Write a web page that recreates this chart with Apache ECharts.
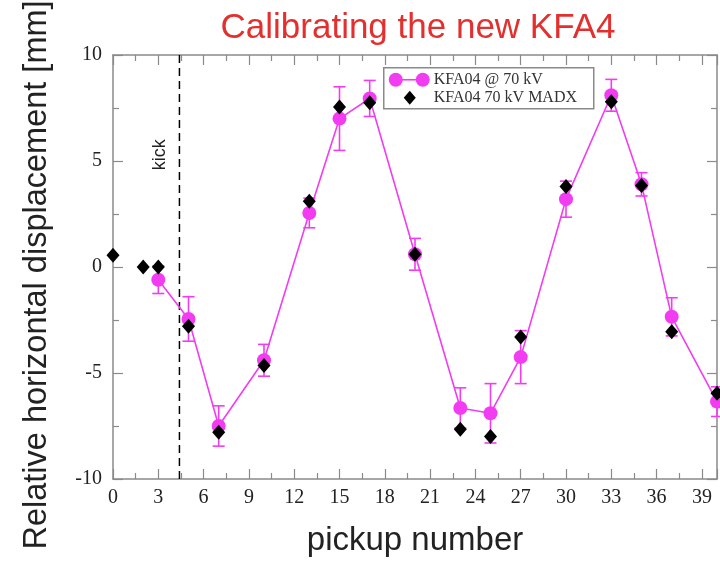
<!DOCTYPE html>
<html>
<head>
<meta charset="utf-8">
<script src="https://cdn.jsdelivr.net/npm/echarts@6/dist/echarts.min.js"></script>
<style>
  html, body { margin: 0; padding: 0; background: #fff; }
  #chart { width: 720px; height: 564px; }
</style>
</head>
<body>
<div id="chart"></div>
<script>
// Measured beam displacement at each pickup (mm) with its uncertainty
const measPickups = [3, 5, 7, 10, 13, 15, 17, 20, 23, 25, 27, 30, 33, 35, 37, 40];
const measValues  = [-0.6, -2.45, -7.5, -4.4, 2.55, 7.0, 7.95, 0.6, -6.65, -6.9, -4.25, 3.2, 8.1, 3.9, -2.35, -6.35];
const measErrors  = [0.65, 1.05, 0.95, 0.75, 0.7, 1.5, 0.85, 0.75, 0.95, 1.4, 1.25, 0.85, 0.75, 0.55, 0.9, 0.7];

// MADX model prediction at each pickup (mm)
const madxPickups = [0, 2, 3, 5, 7, 10, 13, 15, 17, 20, 23, 25, 27, 30, 33, 35, 37, 40];
const madxValues  = [0.55, 0, 0, -2.8, -7.8, -4.65, 3.1, 7.55, 7.75, 0.6, -7.65, -8.0, -3.3, 3.8, 7.8, 3.85, -3.05, -5.95];

// Position of the kicker between pickups
const kickPosition = 4.4;

// Axis ranges
const xRange = [0, 40];
const yRange = [-10, 10];

const MAGENTA = '#f23cf2';
const FRAME = '#8a8a8a';
const SERIF = '"Liberation Serif", "DejaVu Serif", serif';
const SANS = '"Liberation Sans", Arial, sans-serif';

const measData = measPickups.map((p, i) => [p, measValues[i]]);
const errData = measPickups.map((p, i) => [p, measValues[i], measErrors[i]]);
const madxData = madxPickups.map((p, i) => [p, madxValues[i]]);

const chart = echarts.init(document.getElementById('chart'), null, { renderer: 'canvas' });

const tickCommon = { show: true, inside: true, length: 10, lineStyle: { color: FRAME, width: 1.2 } };
const minorCommon = { show: true, splitNumber: 2, length: 6, lineStyle: { color: FRAME, width: 1.2 } };
const lineCommon = { show: true, onZero: false, lineStyle: { color: FRAME, width: 1.5 } };

function xAxis(pos, labels) {
  return {
    type: 'value', position: pos, min: xRange[0], max: xRange[1], interval: 3,
    axisLine: lineCommon, axisTick: tickCommon, minorTick: minorCommon,
    splitLine: { show: false },
    axisLabel: {
      show: labels, margin: 9, color: '#222', fontFamily: SERIF, fontSize: 20,
      showMaxLabel: false
    },
    name: labels ? 'pickup number' : '', nameLocation: 'middle', nameGap: 45,
    nameTextStyle: { color: '#222', fontFamily: SANS, fontSize: 33 }
  };
}
function yAxis(pos, labels) {
  return {
    type: 'value', position: pos, min: yRange[0], max: yRange[1], interval: 5,
    axisLine: lineCommon, axisTick: tickCommon, minorTick: minorCommon,
    splitLine: { show: false },
    axisLabel: { show: labels, margin: 11, color: '#222', fontFamily: SERIF, fontSize: 20 },
    name: labels ? 'Relative horizontal displacement [mm]' : '', nameLocation: 'middle', nameGap: 59,
    nameTextStyle: { color: '#222', fontFamily: SANS, fontSize: 32.5, padding: [0, 16, 0, 0] }
  };
}

chart.setOption({
  animation: false,
  backgroundColor: '#fff',
  title: {
    text: 'Calibrating the new KFA4', left: 413, top: 6, textAlign: 'center',
    textStyle: { color: '#e3302f', fontFamily: SANS, fontSize: 35, fontWeight: 'normal' }
  },
  grid: { left: 113, right: 3, top: 55, bottom: 85, outerBoundsMode: 'none', containLabel: false },
  xAxis: [xAxis('bottom', true), xAxis('top', false)],
  yAxis: [yAxis('left', true), yAxis('right', false)],
  series: [
    {
      // kicker location
      type: 'line', data: [[kickPosition, yRange[0]], [kickPosition, yRange[1]]],
      symbol: 'none', silent: true, z: 1,
      lineStyle: { color: '#000', width: 1.5, type: [8, 5] }
    },
    {
      type: 'custom', name: 'errors', data: errData, z: 2,
      renderItem: function (params, api) {
        const x = api.value(0), y = api.value(1), e = api.value(2);
        const top = api.coord([x, y + e]);
        const bot = api.coord([x, y - e]);
        const hw = 6;
        const style = { stroke: MAGENTA, lineWidth: 1.6 };
        return {
          type: 'group',
          children: [
            { type: 'line', shape: { x1: top[0], y1: top[1], x2: bot[0], y2: bot[1] }, style },
            { type: 'line', shape: { x1: top[0] - hw, y1: top[1], x2: top[0] + hw, y2: top[1] }, style },
            { type: 'line', shape: { x1: bot[0] - hw, y1: bot[1], x2: bot[0] + hw, y2: bot[1] }, style }
          ]
        };
      }
    },
    {
      type: 'line', name: 'KFA04 @ 70 kV', data: measData, z: 3,
      symbol: 'circle', symbolSize: 14,
      lineStyle: { color: MAGENTA, width: 1.6 },
      itemStyle: { color: MAGENTA, opacity: 1 }
    },
    {
      type: 'scatter', name: 'KFA04 70 kV MADX', data: madxData, z: 10,
      symbol: 'diamond', symbolSize: [13, 15],
      itemStyle: { color: '#000', opacity: 1 }
    }
  ]
});

// "kick" annotation beside the kicker line, plus the legend box
const kickAnchor = chart.convertToPixel({ xAxisIndex: 0, yAxisIndex: 0 }, [kickPosition, 5.3]);
chart.setOption({
  graphic: [
    {
      type: 'text', x: kickAnchor[0] - 19, y: kickAnchor[1], rotation: Math.PI / 2,
      style: { text: 'kick', fontFamily: SANS, fontSize: 18, fill: '#222', align: 'center', verticalAlign: 'middle' }
    },
    {
      type: 'group', left: 383, top: 67, z: 20,
      children: [
        { type: 'rect', shape: { x: 0, y: 0, width: 210, height: 41 }, style: { fill: '#fff', stroke: FRAME, lineWidth: 1.5 } },
        { type: 'line', shape: { x1: 12, y1: 12, x2: 39, y2: 12 }, style: { stroke: MAGENTA, lineWidth: 1.6 } },
        { type: 'circle', shape: { cx: 12, cy: 12, r: 7 }, style: { fill: MAGENTA } },
        { type: 'circle', shape: { cx: 39, cy: 12, r: 7 }, style: { fill: MAGENTA } },
        { type: 'polygon', shape: { points: [[26, 23], [32, 30], [26, 37], [20, 30]] }, style: { fill: '#000' } },
        { type: 'text', x: 50, y: 12, style: { text: 'KFA04 @ 70 kV', fontFamily: SERIF, fontSize: 16, fill: '#333', verticalAlign: 'middle' } },
        { type: 'text', x: 50, y: 30, style: { text: 'KFA04 70 kV MADX', fontFamily: SERIF, fontSize: 16, fill: '#333', verticalAlign: 'middle' } }
      ]
    }
  ]
});
</script>
</body>
</html>
